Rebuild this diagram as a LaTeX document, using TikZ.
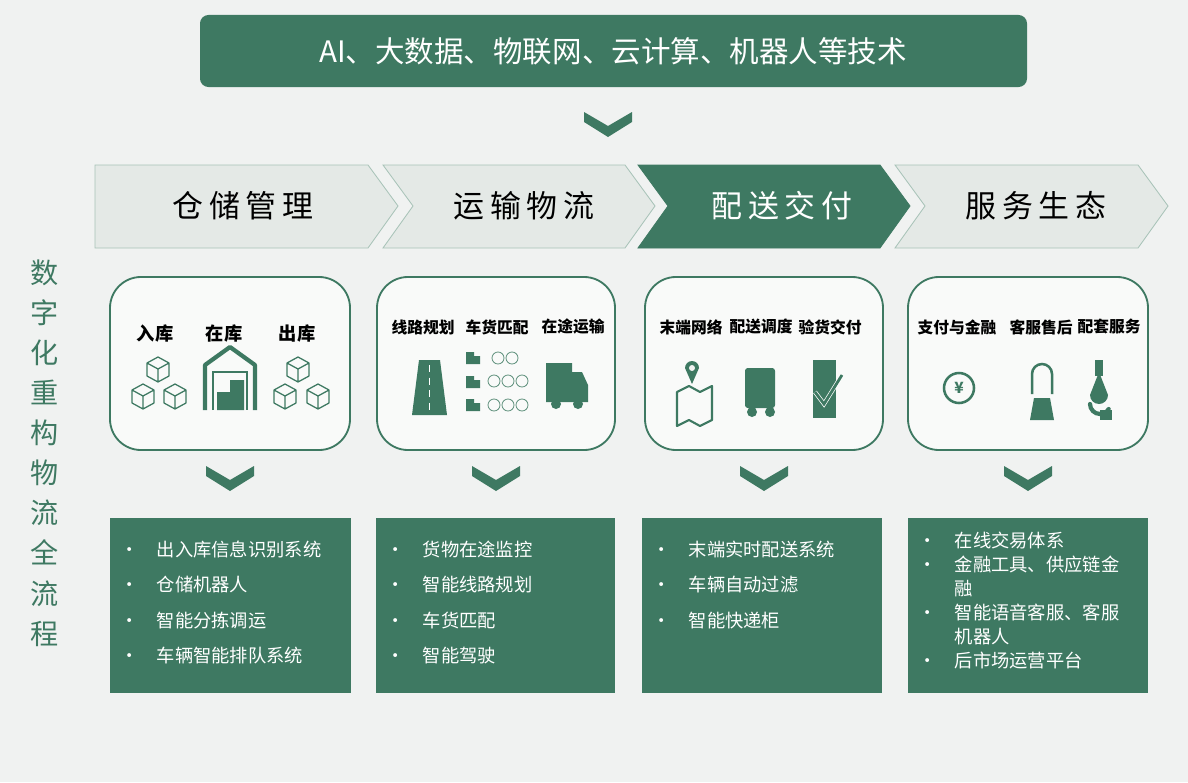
\documentclass[tikz,border=0pt]{standalone}
\usepackage{fontspec}
\setmainfont{Noto Sans CJK SC}
\newfontfamily\cjkwide[LetterSpace=18]{Noto Sans CJK SC}
\usetikzlibrary{positioning}
\definecolor{lgreen}{RGB}{62,121,98}
\definecolor{lpale}{RGB}{228,233,230}
\definecolor{lbg}{RGB}{240,242,241}
\newcommand{\cubeicon}[2]{%
  \draw[lgreen, line width=0.9pt, line join=round] (#1,#2-12) -- (#1+11,#2-6) -- (#1+11,#2+7) -- (#1,#2+13) -- (#1-11,#2+7) -- (#1-11,#2-6) -- cycle
    (#1-11,#2-6) -- (#1,#2) -- (#1+11,#2-6) (#1,#2) -- (#1,#2+13);}
\begin{document}
\begin{tikzpicture}[x=0.025cm, y=-0.025cm]
\tikzstyle{chev}=[draw=lgreen!45, fill=lpale, line width=0.6pt]
\tikzstyle{chevon}=[draw=lgreen, fill=lgreen, line width=0.6pt]
\tikzstyle{ttl}=[font=\cjkwide\fontsize{22}{26}\selectfont]
\tikzstyle{card}=[draw=lgreen, line width=1.3pt, fill=white!60!lbg, rounded corners=22pt]
\tikzstyle{lbl}=[font=\fontsize{13}{15}\selectfont\bfseries, inner sep=0pt]
\tikzstyle{slbl}=[font=\fontsize{11.2}{14}\selectfont\bfseries, inner sep=0pt]
\tikzstyle{itm}=[text=white, font=\fontsize{13}{17}\selectfont, anchor=north west, align=left, text width=5.6cm, inner sep=0pt]
\tikzstyle{down}=[fill=lgreen]
\fill[lbg] (0,0) rectangle (1188,782);
% top banner
\fill[lgreen, rounded corners=6pt] (200,15) rectangle (1027,87);
\node[text=white, font=\fontsize{21}{24}\selectfont] (tech) at (613,51) {AI、大数据、物联网、云计算、机器人等技术};
\fill[down] (584,112) -- (608,126) -- (632,112) -- (632,122) -- (608,137) -- (584,122) -- cycle;
% stage chevrons
\draw[chev] (95,165) -- (368,165) -- (398,206) -- (368,248) -- (95,248) -- cycle;
\draw[chev] (383,165) -- (625,165) -- (655,206) -- (625,248) -- (383,248) -- (413,206) -- cycle;
\draw[chevon] (638,165) -- (880,165) -- (910,206) -- (880,248) -- (638,248) -- (668,206) -- cycle;
\draw[chev] (895,165) -- (1138,165) -- (1168,206) -- (1138,248) -- (895,248) -- (925,206) -- cycle;
\node[ttl] (s1) at (243,206) {仓储管理};
\node[ttl] (s2) at (524,206) {运输物流};
\node[ttl, text=white] (s3) at (782,206) {配送交付};
\node[ttl] (s4) at (1036,206) {服务生态};
% side title
\node[text=lgreen, font=\fontsize{20}{28.5}\selectfont, align=center] (side) at (45,453) {数\\字\\化\\重\\构\\物\\流\\全\\流\\程};
% cards
\foreach \a/\b in {110/350,377/615,645/883,908/1148}{
  \draw[card] (\a,277) rectangle (\b,450);
  \fill[down] (\a/2+\b/2-24,466) -- (\a/2+\b/2,480) -- (\a/2+\b/2+24,466) -- (\a/2+\b/2+24,476) -- (\a/2+\b/2,491) -- (\a/2+\b/2-24,476) -- cycle;}
\foreach \a/\b in {110/351,376/615,642/882,908/1148}{\fill[lgreen] (\a,518) rectangle (\b,693);}
% card 1
\node[lbl] (in) at (155,334) {入库};
\node[lbl] (st) at (224,334) {在库};
\node[lbl] (out) at (297,334) {出库};
\cubeicon{158}{369}\cubeicon{143}{396}\cubeicon{175}{396}
\cubeicon{298}{369}\cubeicon{285}{396}\cubeicon{318}{396}
\draw[lgreen, line width=3pt, line join=round] (205,410) -- (205,365) -- (230,347) -- (255,365) -- (255,410);
\draw[lgreen, line width=2pt] (213,410) -- (213,372) -- (247,372) -- (247,410);
\fill[lgreen] (217,392) rectangle (244,410) (230,380) rectangle (244,392);
% card 2
\node[slbl] (rt) at (423,327) {线路规划};
\node[slbl] (mt) at (497,327) {车货匹配};
\node[slbl] (tr) at (573,327) {在途运输};
\fill[lgreen] (419,360) -- (440,360) -- (447,415) -- (412,415) -- cycle;
\draw[white, line width=1.2pt, dash pattern=on 5pt off 4pt] (429.5,365) -- (429.5,412);
\foreach \y in {358,382,405}{\fill[lgreen] (466,\y-6) rectangle (474,\y+6) (474,\y-2) rectangle (480,\y+6);}
\foreach \x/\y in {498/358,512/358,494/381,508/381,522/381,494/405,508/405,522/405}{\draw[lgreen!80, line width=0.6pt] (\x,\y) circle (6);}
\fill[lgreen] (546,363) rectangle (572,402) (572,372) -- (582,372) -- (588,385) -- (588,402) -- (572,402) -- cycle;
\fill[lgreen] (556,404) circle (5) (578,404) circle (5);
% card 3
\node[slbl] (nw) at (691,327) {末端网络};
\node[slbl] (ds) at (761,327) {配送调度};
\node[slbl] (ck) at (830,327) {验货交付};
\draw[lgreen, line width=1.5pt, line join=round] (677,392) -- (689,386) -- (700,392) -- (712,386) -- (712,420) -- (700,426) -- (689,420) -- (677,426) -- cycle;
\fill[lgreen] (692,384) -- (685,368) arc (180:360:7) -- cycle;
\fill[lbg] (692,368) circle (3);
\fill[lgreen, rounded corners=2pt] (745,368) rectangle (775,408);
\fill[lgreen] (752,412) circle (5) (770,412) circle (5);
\fill[lgreen] (813,360) rectangle (836,418);
\draw[white, line width=3pt] (815,392) -- (824,404) -- (842,375);
\draw[lgreen, line width=2pt] (815,392) -- (824,404) -- (842,375);
% card 4
\node[slbl] (pay) at (957,327) {支付与金融};
\node[slbl] (cs) at (1041,327) {客服售后};
\node[slbl] (sv) at (1109,327) {配套服务};
\draw[lgreen, line width=1.8pt] (959,388) circle (15);
\node[text=lgreen, font=\fontsize{11}{11}\selectfont\bfseries, inner sep=0pt] (yen) at (959,388) {¥};
\draw[lgreen, line width=1.8pt] (1032,394) -- (1032,374) arc (180:360:10) -- (1052,394);
\fill[lgreen] (1030,420) -- (1034,398) -- (1050,398) -- (1054,420) -- cycle;
\fill[lgreen] (1095,360) rectangle (1103,376);
\fill[lgreen] (1099,372) -- (1108,395) arc (0:180:9) -- cycle;
\draw[lgreen, line width=3pt, line cap=round] (1090,404) arc (180:30:10);
\fill[lgreen] (1100,410) rectangle (1112,420);
% lists
\node[itm] (l1) at (120,541) {•\quad 出入库信息识别系统\\[8pt]•\quad 仓储机器人\\[8pt]•\quad 智能分拣调运\\[8pt]•\quad 车辆智能排队系统};
\node[itm] (l2) at (386,541) {•\quad 货物在途监控\\[8pt]•\quad 智能线路规划\\[8pt]•\quad 车货匹配\\[8pt]•\quad 智能驾驶};
\node[itm] (l3) at (652,541) {•\quad 末端实时配送系统\\[8pt]•\quad 车辆自动过滤\\[8pt]•\quad 智能快递柜};
\node[itm] (l4) at (918,532) {•\quad 在线交易体系\\•\quad 金融工具、供应链金\\\phantom{•}\quad 融\\•\quad 智能语音客服、客服\\\phantom{•}\quad 机器人\\•\quad 后市场运营平台};
\end{tikzpicture}
\end{document}
